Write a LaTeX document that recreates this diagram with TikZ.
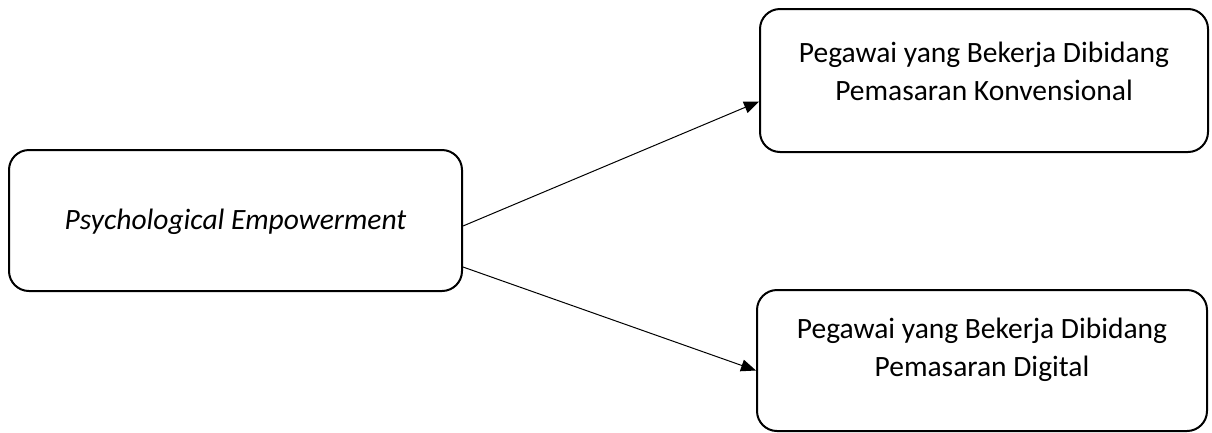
\documentclass[tikz,border=0pt]{standalone}
\usepackage{fontspec}
\setmainfont{Carlito}
\usetikzlibrary{arrows.meta}
\tikzstyle{box} = [draw, line width=2pt, rounded corners=20pt, inner sep=0pt]
\tikzstyle{txt} = [align=center, font=\fontsize{29.5}{38}\selectfont]
\tikzstyle{arrow} = [line width=1pt, -{Triangle[length=15pt,width=12pt]}]

\begin{document}
\begin{tikzpicture}[x=1pt,y=-1pt]
	\useasboundingbox (0,0) rectangle (1212,432);
	\node[box, minimum width=453pt, minimum height=141pt](pe) at (235.5,220.5){};
	\node[box, minimum width=448pt, minimum height=143pt](kv) at (984,80.5){};
	\node[box, minimum width=450pt, minimum height=141pt](dg) at (982,360.5){};
	
	\node[txt] at ([yshift=-1.5pt]pe.center){\itshape Psychological Empowerment};
	\node[txt] at ([yshift=9pt]kv.center){Pegawai yang Bekerja Dibidang\\Pemasaran Konvensional};
	\node[txt] at ([yshift=11pt]dg.center){Pegawai yang Bekerja Dibidang\\Pemasaran Digital};
	
	\draw[arrow]([yshift=-5.5pt]pe.east) -- ([yshift=-21pt]kv.west);
	\draw[arrow]([yshift=-46.5pt]pe.east) -- ([yshift=-10pt]dg.west);
\end{tikzpicture}
\end{document}
